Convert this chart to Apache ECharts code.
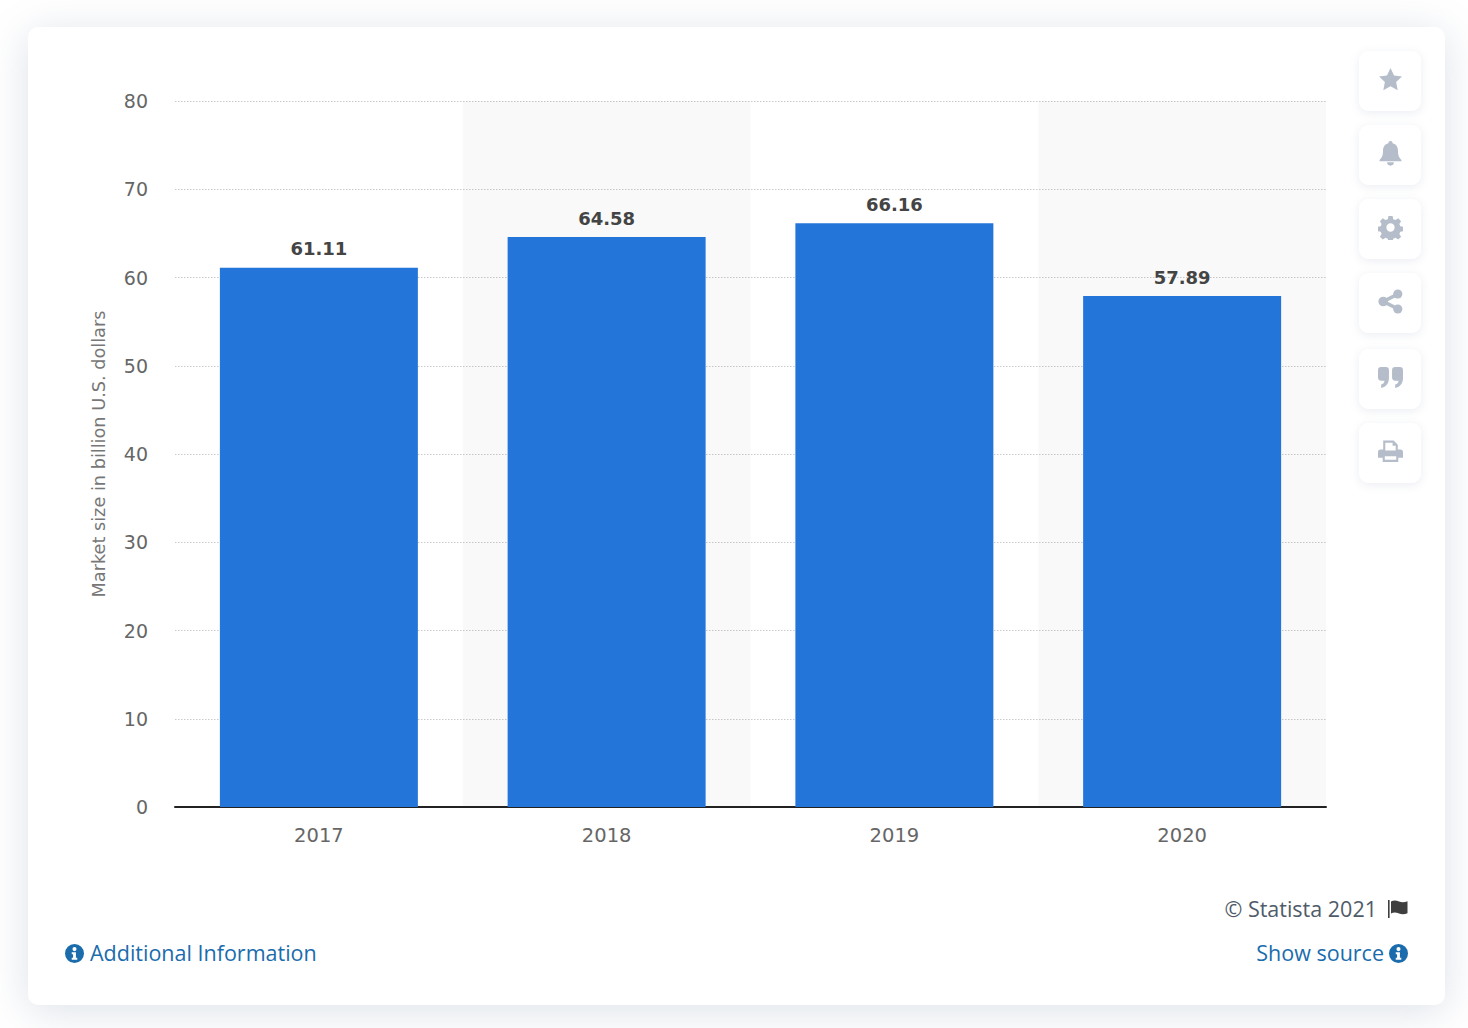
<!DOCTYPE html>
<html>
<head>
<meta charset="utf-8">
<title>Market size</title>
<script src="https://cdn.jsdelivr.net/npm/echarts@6/dist/echarts.min.js"></script>
<style>
html, body { margin: 0; padding: 0; width: 1468px; height: 1028px; overflow: hidden; background: #fff; }
#card { position: absolute; left: 28px; top: 27px; width: 1417px; height: 978px; background: #fff; border-radius: 10px;
    box-shadow: 0 6px 40px rgba(110, 130, 160, 0.24); }
#chart { position: absolute; left: 0; top: 0; width: 1468px; height: 1028px; }
.btn { position: absolute; left: 1359px; width: 62px; height: 60px; background: #fff; border-radius: 9px;
    box-shadow: 0 2px 10px rgba(110, 130, 160, 0.14); }
.btn svg { position: absolute; left: 18.5px; top: 16px; width: 25px; height: 25px; fill: #b4bdc9; }
.foot { position: absolute; font-family: "Open Sans", sans-serif; font-size: 21.5px; line-height: 30px; white-space: nowrap; }
.link { color: #1a6cad; }
.info { position: absolute; width: 19px; height: 19px; }
</style>
</head>
<body>
<div id="card"></div>
<div class="btn" style="top:51px"><svg viewBox="0 0 24 24"><path d="M12 1l3.400 7.200 7.600 1-5.600 5.300 1.500 7.800L12 18.500l-6.900 3.800 1.500-7.800L1 9.200l7.600-1z"/></svg></div>
<div class="btn" style="top:125px"><svg viewBox="0 0 24 24"><path d="M12 0a2 2 0 0 1 2 2.200c3.600.9 5.200 3.800 5.200 7.400 0 5 1.600 7 3.300 8.600v1.300h-21v-1.300c1.700-1.600 3.300-3.600 3.300-8.600 0-3.600 1.600-6.500 5.200-7.400A2 2 0 0 1 12 0zM8.800 20.500h6.400a3.200 3.200 0 0 1-6.400 0z"/></svg></div>
<div class="btn" style="top:199px"><svg viewBox="0 0 24 24"><path fill-rule="evenodd" d="M10 1h4l.6 3 2.200.9 2.600-1.700 2.800 2.800-1.700 2.600.9 2.200 3 .6v4l-3 .6-.9 2.200 1.700 2.600-2.800 2.800-2.600-1.700-2.200.9-.6 3h-4l-.6-3-2.200-.9-2.600 1.700-2.800-2.800 1.700-2.600-.9-2.200-3-.6v-4l3-.6.9-2.200-1.700-2.600 2.800-2.800 2.600 1.700 2.200-.9zM12 8a4 4 0 1 0 0 8 4 4 0 0 0 0-8z"/></svg></div>
<div class="btn" style="top:273px"><svg viewBox="0 0 24 24"><circle cx="5" cy="12" r="4.600"/><circle cx="19" cy="4.800" r="4.400"/><circle cx="19" cy="19.200" r="4.400"/><path d="M4 10.500L18 3.500l1.600 3L6 13.500zM6 10.500l13.600 7-1.600 3L4 13.500z"/></svg></div>
<div class="btn" style="top:349px"><svg viewBox="0 0 24 24"><path d="M3 2h4.500a3 3 0 0 1 3 3v7.500c0 5-2.600 8.500-7.500 9.500v-3.200c2-.6 3.100-2 3.200-3.800H3a3 3 0 0 1-3-3V5a3 3 0 0 1 3-3zM16.500 2H21a3 3 0 0 1 3 3v7.500c0 5-2.600 8.500-7.500 9.500v-3.200c2-.6 3.100-2 3.200-3.800h-3.200a3 3 0 0 1-3-3V5a3 3 0 0 1 3-3z"/></svg></div>
<div class="btn" style="top:423px"><svg viewBox="0 0 24 24"><path fill-rule="evenodd" d="M5 1.500h10l4 4V10h2.500A2.500 2.500 0 0 1 24 12.500V18h-4.500v4h-15v-4H0v-5.500A2.500 2.500 0 0 1 2.500 10H5zM7 3.500V11h10V6.500h-3v-3zM6.500 16.500V20h11v-3.500z"/></svg></div>

<div id="chart"></div>

<div class="foot" style="right:91px;top:894px;color:#4f5b69">© Statista 2021</div>
<svg style="position:absolute;left:1388px;top:900px;width:22px;height:18px" viewBox="0 0 22 18"><path fill="#3f3f3f" d="M0 0h1.600v18H0zM3 1.500c3-1.500 5.500-.8 8 0s5.500 1 8.500-.3v12c-3 1.300-6 1.100-8.500.3s-5-1.500-8 0z"/></svg>

<div class="foot link" style="left:90px;top:938px">Additional Information</div>
<svg class="info" style="left:65px;top:944px" viewBox="0 0 24 24"><path fill="#1a6cad" fill-rule="evenodd" d="M12 0a12 12 0 1 1 0 24 12 12 0 0 1 0-24zM12 3.800a2.600 2.600 0 1 0 0 5.200 2.600 2.600 0 0 0 0-5.200zM8.500 10.500v2.300h1.700v4.700H8.500v2.500h7v-2.500h-1.700v-7z"/></svg>

<div class="foot link" style="right:84px;top:938px">Show source</div>
<svg class="info" style="left:1389px;top:944px" viewBox="0 0 24 24"><path fill="#1a6cad" fill-rule="evenodd" d="M12 0a12 12 0 1 1 0 24 12 12 0 0 1 0-24zM12 3.800a2.600 2.600 0 1 0 0 5.200 2.600 2.600 0 0 0 0-5.200zM8.500 10.500v2.300h1.700v4.700H8.500v2.500h7v-2.500h-1.700v-7z"/></svg>

<script>
var years = ['2017', '2018', '2019', '2020'];
var marketSize = [61.11, 64.58, 66.16, 57.89];
var axisTitle = 'Market size in billion U.S. dollars';

var myChart = echarts.init(document.getElementById('chart'), null, {renderer: 'svg'});

var option = {
    animation: false,
    backgroundColor: 'transparent',
    textStyle: { fontFamily: 'DejaVu Sans' },
    grid: { left: 175, right: 142, top: 101, bottom: 221 },
    xAxis: [
        {
            type: 'category',
            data: years,
            axisTick: { show: false },
            axisLine: { lineStyle: { color: '#222', width: 2 } },
            axisLabel: { color: '#666', fontSize: 19.5, margin: 18 },
            // translucent so the dotted lines still show through the bands
            splitArea: { show: true, areaStyle: { color: ['rgba(0,0,0,0)', 'rgba(0,0,0,0.024)'] } }
        }
    ],
    yAxis: [
        {
            type: 'value',
            min: 0,
            max: 80,
            interval: 10,
            name: axisTitle,
            nameLocation: 'middle',
            nameGap: 67,
            nameTextStyle: { color: '#777', fontSize: 17.7 },
            axisLine: { show: false },
            axisTick: { show: false },
            axisLabel: { color: '#666', fontSize: 19, margin: 27 },
            splitLine: { lineStyle: { color: '#cbcbcb', type: [1.5, 1.5], width: 1.2 } }
        }
    ],
    series: [
        {
            name: 'Market size',
            type: 'bar',
            data: marketSize,
            barWidth: 198,
            itemStyle: { color: '#2475d9' },
            label: {
                show: true,
                position: 'top',
                distance: 10,
                color: '#444',
                fontSize: 18,
                fontWeight: 'bold',
                formatter: function (p) { return p.value.toFixed(2); }
            }
        }
    ]
};
myChart.setOption(option);
</script>
</body>
</html>
